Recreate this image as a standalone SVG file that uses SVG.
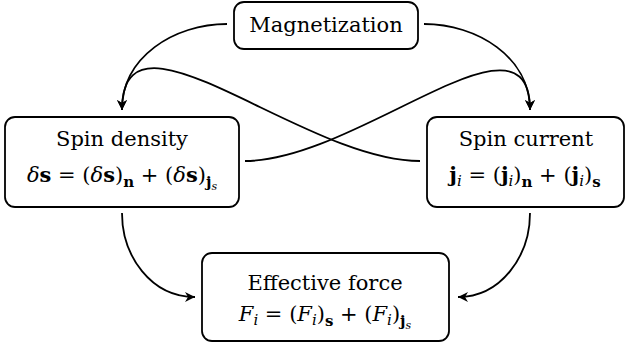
<svg xmlns="http://www.w3.org/2000/svg" width="629" height="352" viewBox="0 0 629 352">
<style>
.box{fill:#fff;stroke:#000;stroke-width:1.8}
text{font-family:'DejaVu Serif',serif;font-size:21px;text-anchor:middle;fill:#000}
.it{font-style:italic}
.b{font-weight:bold}
.sub{font-size:15px}
.ss{font-size:11px}
.c{fill:none;stroke:#000;stroke-width:1.8;marker-end:url(#arr)}
</style>
<defs>
<marker id="arr" markerUnits="userSpaceOnUse" viewBox="-11 -6 12 12" refX="0" refY="0" markerWidth="12" markerHeight="12" orient="auto">
<path d="M0,0 L-10,-5 L-7,0 L-10,5 z" fill="#000"/>
</marker>
</defs>
<g id="connectors">
<path class="c" d="M227,24 C174,24 122,57 122,110"/>
<path class="c" d="M424,24 C477,24 530,57 530,110"/>
<path class="c" d="M420,161 C302,161 122,-8 122,110"/>
<path class="c" d="M245,161 C358,161 530,-3 530,110"/>
<path class="c" d="M122,213 C122,256 151,297 195,297"/>
<path class="c" d="M530,213 C530,256 501,297 458,297"/>
</g>
<g id="magnetization">
<rect class="box" x="234" y="2" width="184" height="47" rx="10"/>
<text x="326" y="32">Magnetization</text>
</g>
<g id="spin-density">
<rect class="box" x="5" y="117" width="234" height="90" rx="10"/>
<text x="122" y="146">Spin density</text>
<text x="122" y="182"><tspan class="it">δ</tspan><tspan class="b">s</tspan> = (<tspan class="it">δ</tspan><tspan class="b">s</tspan>)<tspan class="sub b" dy="5">n</tspan><tspan dy="-5"> + (</tspan><tspan class="it">δ</tspan><tspan class="b">s</tspan>)<tspan class="sub b" dy="5">j</tspan><tspan class="ss it" dy="3">s</tspan></text>
</g>
<g id="spin-current">
<rect class="box" x="427" y="117" width="197" height="90" rx="10"/>
<text x="526" y="146">Spin current</text>
<text x="525" y="182"><tspan class="b">j</tspan><tspan class="sub it" dy="4">i</tspan><tspan dy="-4"> = (</tspan><tspan class="b">j</tspan><tspan class="sub it" dy="4">i</tspan><tspan dy="-4">)</tspan><tspan class="sub b" dy="5">n</tspan><tspan dy="-5"> + (</tspan><tspan class="b">j</tspan><tspan class="sub it" dy="4">i</tspan><tspan dy="-4">)</tspan><tspan class="sub b" dy="5">s</tspan></text>
</g>
<g id="effective-force">
<rect class="box" x="202" y="253" width="247" height="88" rx="10"/>
<text x="325" y="290">Effective force</text>
<text x="325" y="321"><tspan class="it">F</tspan><tspan class="sub it" dy="4">i</tspan><tspan dy="-4"> = (</tspan><tspan class="it">F</tspan><tspan class="sub it" dy="4">i</tspan><tspan dy="-4">)</tspan><tspan class="sub b" dy="5">s</tspan><tspan dy="-5"> + (</tspan><tspan class="it">F</tspan><tspan class="sub it" dy="4">i</tspan><tspan dy="-4">)</tspan><tspan class="sub b" dy="5">j</tspan><tspan class="ss it" dy="3">s</tspan></text>
</g>
</svg>
